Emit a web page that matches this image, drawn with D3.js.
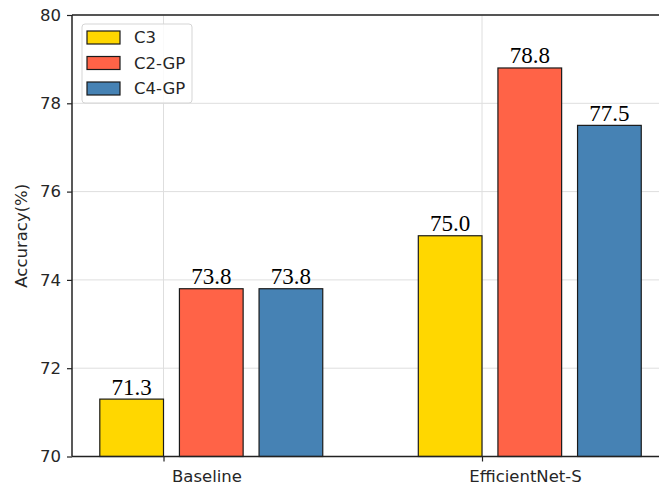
<!DOCTYPE html>
<html>
<head>
<meta charset="utf-8">
<script src="https://cdn.jsdelivr.net/npm/d3@7"></script>
<style>
  html, body { margin: 0; padding: 0; background: #fff; }
  svg { display: block; }
</style>
</head>
<body>
<svg id="chart" width="659" height="486"></svg>
<script>
// Model groups along the x axis
const categories = ["Baseline", "EfficientNet-S"];
// Variants compared within each group
const seriesNames = ["C3", "C2-GP", "C4-GP"];
const seriesColors = ["#FFD700", "#FF6347", "#4682B4"];
// Accuracy (%) per variant, one value per group
const c3Values = [71.3, 75.0];
const c2gpValues = [73.8, 78.8];
const c4gpValues = [73.8, 77.5];
const yTicks = [70, 72, 74, 76, 78, 80];

const series = [c3Values, c2gpValues, c4gpValues];

const svg = d3.select("#chart");

// Axes box
const axLeft = 72, axTop = 15, axBottom = 456.5;
const unitPx = 318.5;               // pixels between group positions
const xMin = -0.2873, xMax = 1.585;
const x = d3.scaleLinear().domain([xMin, xMax]).range([axLeft, axLeft + (xMax - xMin) * unitPx]);
const y = d3.scaleLinear().domain([70, 80]).range([axBottom, axTop]);

const barW = 0.2;                  // bar width in group units
const offsets = [-0.2, 0.05, 0.3]; // left edge of each bar relative to group
const labelShift = 0.135;          // group names sit right of the tick mark

const tickFont = "'DejaVu Sans', sans-serif";
const tickSize = 16.5;

// Grid lines
const grid = svg.append("g");
grid.selectAll("line.hy").data(yTicks).join("line")
  .attr("x1", x(xMin)).attr("x2", x(xMax))
  .attr("y1", d => y(d)).attr("y2", d => y(d))
  .attr("stroke", "#dedede").attr("stroke-width", 1);
grid.selectAll("line.vx").data(categories).join("line")
  .attr("x1", (d, i) => x(i)).attr("x2", (d, i) => x(i))
  .attr("y1", axTop).attr("y2", axBottom)
  .attr("stroke", "#dedede").attr("stroke-width", 1);

// Bars
const bars = svg.append("g");
series.forEach((vals, s) => {
  bars.selectAll(null).data(vals).join("rect")
    .attr("x", (d, i) => x(i + offsets[s]))
    .attr("width", x(barW) - x(0))
    .attr("y", d => y(d))
    .attr("height", d => y(70) - y(d))
    .attr("fill", seriesColors[s])
    .attr("stroke", "#1a1a1a")
    .attr("stroke-width", 1.2);
});

// Value labels above bars
const labels = svg.append("g");
series.forEach((vals, s) => {
  labels.selectAll(null).data(vals).join("text")
    .attr("x", (d, i) => x(i + offsets[s] + barW / 2))
    .attr("y", d => y(d) - 4.5)
    .attr("text-anchor", "middle")
    .attr("font-family", "'Liberation Serif', 'Times New Roman', serif")
    .attr("font-size", 23)
    .attr("fill", "#000")
    .text(d => d.toFixed(1));
});

// Y axis
const yAxis = d3.axisLeft(y).tickValues(yTicks).tickSize(5).tickPadding(6).tickFormat(d3.format("d"));
const gy = svg.append("g").attr("transform", `translate(${axLeft},0)`).call(yAxis);
gy.select(".domain").remove();
gy.selectAll(".tick line").attr("stroke", "#222").attr("stroke-width", 1.2);
gy.selectAll(".tick text").attr("font-family", tickFont).attr("font-size", tickSize).attr("fill", "#262626");

// X axis: tick marks at the group positions, names drawn a little to the right
const xAxis = d3.axisBottom(x).tickValues(categories.map((d, i) => i)).tickSize(5).tickPadding(8.5)
  .tickFormat(i => categories[i]);
const gx = svg.append("g").attr("transform", `translate(0,${axBottom})`).call(xAxis);
gx.select(".domain").remove();
gx.selectAll(".tick line").attr("stroke", "#222").attr("stroke-width", 1.2);
gx.selectAll(".tick text")
  .attr("x", x(labelShift) - x(0))
  .attr("font-family", tickFont).attr("font-size", tickSize).attr("fill", "#262626");

// Spines
const spines = svg.append("g").attr("stroke", "#222").attr("stroke-width", 1.5).attr("fill", "none");
spines.append("line").attr("x1", axLeft).attr("x2", axLeft).attr("y1", axTop).attr("y2", axBottom);
spines.append("line").attr("x1", axLeft).attr("x2", x(xMax)).attr("y1", axTop).attr("y2", axTop);
spines.append("line").attr("x1", axLeft).attr("x2", x(xMax)).attr("y1", axBottom).attr("y2", axBottom);
spines.append("line").attr("x1", x(xMax)).attr("x2", x(xMax)).attr("y1", axTop).attr("y2", axBottom);

// Y axis title
svg.append("text")
  .attr("transform", `translate(22,${(axTop + axBottom) / 2}) rotate(-90)`)
  .attr("text-anchor", "middle")
  .attr("dominant-baseline", "middle")
  .attr("font-family", tickFont).attr("font-size", tickSize).attr("fill", "#262626")
  .text("Accuracy(%)");

// Legend
const lg = svg.append("g").attr("transform", "translate(82,24)");
lg.append("rect").attr("width", 110).attr("height", 79).attr("rx", 3)
  .attr("fill", "#fff").attr("fill-opacity", 0.85)
  .attr("stroke", "#d5d5d5").attr("stroke-width", 1);
seriesNames.forEach((name, i) => {
  const row = lg.append("g").attr("transform", `translate(0,${13.5 + i * 25.5})`);
  row.append("rect").attr("x", 5).attr("y", -6.5).attr("width", 33).attr("height", 13)
    .attr("fill", seriesColors[i]).attr("stroke", "#1a1a1a").attr("stroke-width", 1.2);
  row.append("text").attr("x", 52).attr("y", 0).attr("dy", "0.36em")
    .attr("font-family", tickFont).attr("font-size", tickSize).attr("fill", "#262626")
    .text(name);
});
</script>
</body>
</html>
